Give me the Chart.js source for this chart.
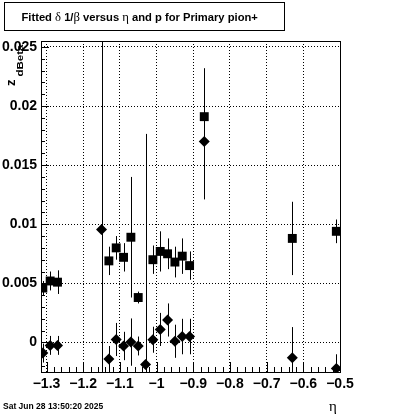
<!DOCTYPE html>
<html>
<head>
<meta charset="utf-8">
<script src="https://cdn.jsdelivr.net/npm/chart.js@4/dist/chart.umd.min.js"></script>
<style>
  html, body { margin: 0; padding: 0; background: #fff; }
  #c { display: block; }
</style>
</head>
<body>
<canvas id="c" width="400" height="414"></canvas>
<script>
// Values
const xTicks = [-1.3, -1.2, -1.1, -1.0, -0.9, -0.8, -0.7, -0.6, -0.5];
const yTicks = [0, 0.005, 0.01, 0.015, 0.02, 0.025];

// squares (series 1)
const etaSquares = [-1.31, -1.29, -1.27, -1.13, -1.11, -1.09, -1.07, -1.05, -1.01, -0.99, -0.97, -0.95, -0.93, -0.91, -0.87, -0.63, -0.51];
const squareValues = [0.0046, 0.0052, 0.0051, 0.0069, 0.0080, 0.0072, 0.0089, 0.0038, 0.0070, 0.0077, 0.0075, 0.0068, 0.0073, 0.0065, 0.0191, 0.0088, 0.0094];
const squareErrors = [0.0006, 0.0008, 0.0010, 0.0012, 0.0010, 0.0012, 0.0051, 0.0005, 0.0012, 0.0017, 0.0013, 0.0013, 0.0015, 0.0012, 0.0041, 0.0031, 0.0010];

// diamonds (series 2)
const etaDiamonds = [-1.31, -1.29, -1.27, -1.15, -1.13, -1.11, -1.09, -1.07, -1.05, -1.03, -1.01, -0.99, -0.97, -0.95, -0.93, -0.91, -0.87, -0.63, -0.51];
const diamondValues = [-0.0009, -0.00025, -0.00025, 0.00955, -0.0014, 0.00025, -0.0003, 0.00003, -0.0003, -0.00186, 0.00023, 0.0011, 0.0019, 0.0001, 0.0005, 0.0005, 0.0170, -0.0013, -0.0022];
const diamondErrors = [0.0008, 0.0008, 0.0008, 0.0200, 0.0011, 0.0014, 0.0012, 0.0020, 0.0008, 0.0195, 0.0011, 0.0014, 0.0014, 0.0014, 0.0015, 0.0015, 0.0049, 0.0026, 0.0012];

const titleParts = [
  ["Fitted ", "b"], ["\u03b4", "s"], [" 1/", "b"], ["\u03b2", "s"],
  [" versus ", "b"], ["\u03b7", "s"], [" and p for Primary pion+", "b"],
];
const dateText = "Sat Jun 28 13:50:20 2025";

const SANS = "'Liberation Sans', Arial, sans-serif";
const SERIF = "'Liberation Serif', 'DejaVu Serif', serif";

const toPoints = (xs, ys, es) => xs.map((x, i) => ({ x, y: ys[i], e: es[i] }));

function fmtTick(v) {
  const a = +Math.abs(v).toFixed(3);
  return (v < -1e-9 ? "\u2212" : "") + String(a);
}

const rootPlugin = {
  id: "rootStyle",
  beforeDatasetsDraw(chart) {
    const { ctx, chartArea: a, scales: { x, y } } = chart;
    ctx.save();
    ctx.beginPath();
    ctx.rect(a.left, a.top, a.right - a.left, a.bottom - a.top);
    ctx.clip();
    ctx.strokeStyle = "#000";
    ctx.lineWidth = 1;
    chart.data.datasets.forEach(ds => {
      ds.data.forEach(p => {
        const px = Math.round(x.getPixelForValue(p.x)) + 0.5;
        ctx.beginPath();
        ctx.moveTo(px, y.getPixelForValue(p.y + p.e));
        ctx.lineTo(px, y.getPixelForValue(p.y - p.e));
        ctx.stroke();
      });
    });
    ctx.restore();
  },
  afterDraw(chart) {
    const { ctx, chartArea: a, scales: { x, y } } = chart;
    ctx.save();
    ctx.strokeStyle = "#000";
    ctx.fillStyle = "#000";
    ctx.lineWidth = 1;

    // frame
    ctx.strokeRect(a.left + 0.5, a.top + 0.5, a.right - a.left, a.bottom - a.top);

    // x ticks inside the frame
    ctx.beginPath();
    for (let k = 0; ; k++) {
      const v = -1.3 + k * 0.02;
      if (v > x.max + 1e-9) break;
      const px = Math.round(x.getPixelForValue(v)) + 0.5;
      const len = k % 5 === 0 ? 10 : 5;
      ctx.moveTo(px, a.bottom);
      ctx.lineTo(px, a.bottom - len);
    }
    // y ticks inside the frame
    for (let k = -2; ; k++) {
      const v = k * 0.001;
      if (v > y.max + 1e-9) break;
      if (v < y.min) continue;
      const py = Math.round(y.getPixelForValue(v)) + 0.5;
      const len = ((k % 5) + 5) % 5 === 0 ? 8 : 4;
      ctx.moveTo(a.left, py);
      ctx.lineTo(a.left + len, py);
    }
    ctx.stroke();

    // title box
    ctx.fillStyle = "#fff";
    ctx.fillRect(4.5, 2.5, 280, 28);
    ctx.strokeRect(4.5, 2.5, 280, 28);
    ctx.fillStyle = "#000";
    ctx.textBaseline = "alphabetic";
    ctx.textAlign = "left";
    let tx = 21.5;
    titleParts.forEach(([t, kind]) => {
      ctx.font = kind === "b" ? `bold 11.2px ${SANS}` : `12.7px ${SERIF}`;
      ctx.fillText(t, tx, 20.8);
      tx += ctx.measureText(t).width;
    });

    // y axis title: z with subscript dBeta
    ctx.save();
    ctx.translate(15, 86);
    ctx.rotate(-Math.PI / 2);
    ctx.font = `bold 13px ${SANS}`;
    ctx.fillText("z", 0, 0);
    const zw = ctx.measureText("z").width;
    ctx.font = `bold 9.5px ${SANS}`;
    const sw = ctx.measureText("dBeta").width;
    ctx.translate(zw + 3, 8);
    ctx.scale(32 / sw, 1);
    ctx.fillText("dBeta", 0, 0);
    ctx.restore();

    // x axis title
    ctx.font = `15px ${SERIF}`;
    ctx.textAlign = "left";
    ctx.fillText("\u03b7", 329, 411);

    // date stamp
    ctx.font = `bold 8.5px ${SANS}`;
    ctx.fillText(dateText, 3, 409);
    ctx.restore();
  },
};

new Chart(document.getElementById("c").getContext("2d"), {
  type: "scatter",
  data: {
    datasets: [
      {
        label: "squares",
        data: toPoints(etaSquares, squareValues, squareErrors),
        pointStyle: "rect",
        pointRadius: 6.3,
        pointHoverRadius: 6.3,
        backgroundColor: "#000",
        borderColor: "#000",
        borderWidth: 0,
      },
      {
        label: "diamonds",
        data: toPoints(etaDiamonds, diamondValues, diamondErrors),
        pointStyle: "rectRot",
        pointRadius: 5.5,
        pointHoverRadius: 5.5,
        backgroundColor: "#000",
        borderColor: "#000",
        borderWidth: 0,
      },
    ],
  },
  options: {
    responsive: false,
    animation: false,
    events: [],
    layout: { padding: { top: 41, right: 60, left: 0, bottom: 0 } },
    plugins: {
      legend: { display: false },
      title: { display: false },
      tooltip: { enabled: false },
    },
    scales: {
      x: {
        type: "linear",
        min: -1.315,
        max: -0.5,
        afterBuildTicks: s => { s.ticks = xTicks.map(value => ({ value })); },
        afterFit: s => { s.height = 42; },
        ticks: {
          autoSkip: false,
          maxRotation: 0,
          padding: 4,
          color: "#000",
          font: { family: SANS, size: 14, weight: "bold" },
          callback: v => fmtTick(v),
        },
        grid: { color: "#000", lineWidth: 1, drawTicks: false },
        border: { display: false, dash: [1, 2] },
      },
      y: {
        type: "linear",
        min: -0.0025,
        max: 0.0255,
        afterBuildTicks: s => { s.ticks = yTicks.map(value => ({ value })); },
        afterFit: s => { s.width = 41; },
        ticks: {
          autoSkip: false,
          padding: 4,
          color: "#000",
          font: { family: SANS, size: 14, weight: "bold" },
          callback: v => fmtTick(v),
        },
        grid: { color: "#000", lineWidth: 1, drawTicks: false },
        border: { display: false, dash: [1, 2] },
      },
    },
  },
  plugins: [rootPlugin],
});
</script>
</body>
</html>
